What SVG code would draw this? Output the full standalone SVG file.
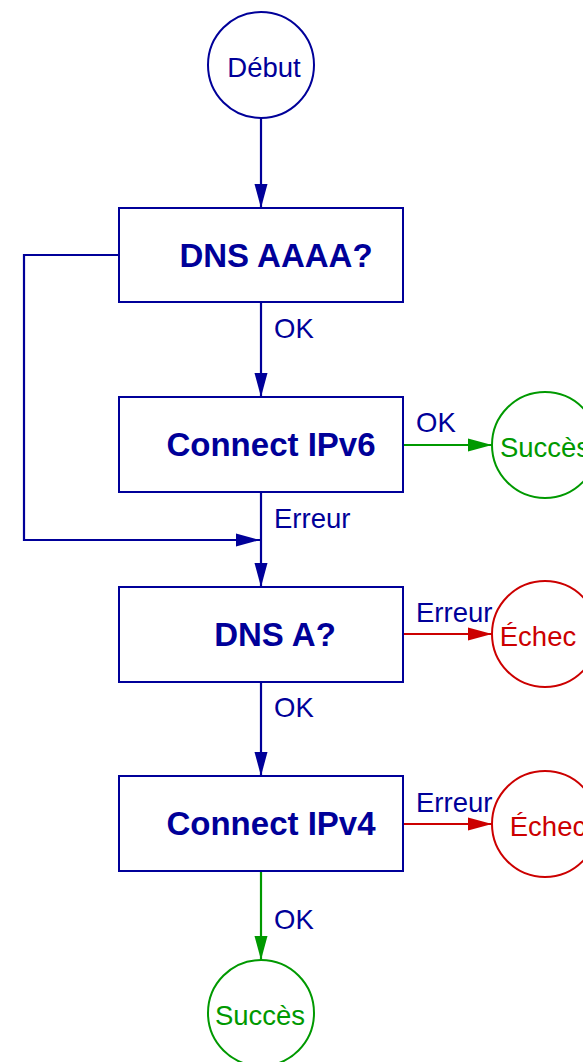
<svg xmlns="http://www.w3.org/2000/svg" width="583" height="1062" viewBox="0 0 583 1062">
<defs>
<style>
.bx{fill:#fff;stroke:#000099;stroke-width:2}
.bt{font-family:"Liberation Sans",Arial,sans-serif;font-weight:bold;font-size:33px;fill:#000099;text-anchor:middle}
.lb{font-family:"Liberation Sans",Arial,sans-serif;font-size:27.5px;fill:#000099}
.ct{font-family:"Liberation Sans",Arial,sans-serif;font-size:27.5px;text-anchor:middle}
.cb{fill:#fff;stroke:#000099;stroke-width:2}
.cg{fill:#fff;stroke:#009900;stroke-width:2}
.cr{fill:#fff;stroke:#cc0000;stroke-width:2}
.eb{fill:none;stroke:#000099;stroke-width:2.2;marker-end:url(#ab)}
.eg{fill:none;stroke:#009900;stroke-width:2.2;marker-end:url(#ag)}
.er{fill:none;stroke:#cc0000;stroke-width:2.2;marker-end:url(#ar)}
</style>
<marker id="ab" markerUnits="userSpaceOnUse" markerWidth="25" markerHeight="14" refX="24" refY="7" orient="auto"><path d="M0,0.5 L24,7 L0,13.5 z" fill="#000099"/></marker>
<marker id="ag" markerUnits="userSpaceOnUse" markerWidth="25" markerHeight="14" refX="24" refY="7" orient="auto"><path d="M0,0.5 L24,7 L0,13.5 z" fill="#009900"/></marker>
<marker id="ar" markerUnits="userSpaceOnUse" markerWidth="25" markerHeight="14" refX="24" refY="7" orient="auto"><path d="M0,0.5 L24,7 L0,13.5 z" fill="#cc0000"/></marker>
</defs>
<rect width="583" height="1062" fill="#fff"/>
<g id="connectors">
<path class="eb" d="M261,118 L261,208"/>
<path class="eb" d="M261,302 L261,397"/>
<path class="eb" d="M261,492 L261,587"/>
<path class="eb" d="M119,255 L24,255 L24,540 L260,540"/>
<path class="eg" d="M403,445 L492,445"/>
<path class="er" d="M403,634 L492,634"/>
<path class="eb" d="M261,682 L261,776"/>
<path class="er" d="M403,824 L492,824"/>
<path class="eg" d="M261,871 L261,960"/>
<text class="lb" x="274" y="338">OK</text>
<text class="lb" x="416" y="432">OK</text>
<text class="lb" x="274" y="528">Erreur</text>
<text class="lb" x="416" y="622">Erreur</text>
<text class="lb" x="274" y="717">OK</text>
<text class="lb" x="416" y="812">Erreur</text>
<text class="lb" x="274" y="929">OK</text>
</g>
<g id="debut"><circle class="cb" cx="261" cy="65" r="53"/><text class="ct" x="264" y="77" fill="#000099">Début</text></g>
<g id="dns-aaaa"><rect class="bx" x="119" y="208" width="284" height="94"/><text class="bt" x="276" y="267">DNS AAAA?</text></g>
<g id="connect-ipv6"><rect class="bx" x="119" y="397" width="284" height="95"/><text class="bt" x="271" y="456">Connect IPv6</text></g>
<g id="succes-1"><circle class="cg" cx="545" cy="445" r="53"/><text class="ct" x="545" y="457" fill="#009900">Succès</text></g>
<g id="dns-a"><rect class="bx" x="119" y="587" width="284" height="95"/><text class="bt" x="275" y="646">DNS A?</text></g>
<g id="echec-1"><circle class="cr" cx="545" cy="634" r="53"/><text class="ct" x="538" y="646" fill="#cc0000">Échec</text></g>
<g id="connect-ipv4"><rect class="bx" x="119" y="776" width="284" height="95"/><text class="bt" x="271" y="835">Connect IPv4</text></g>
<g id="echec-2"><circle class="cr" cx="545" cy="824" r="53"/><text class="ct" x="548" y="836" fill="#cc0000">Échec</text></g>
<g id="succes-2"><circle class="cg" cx="261" cy="1013" r="53"/><text class="ct" x="260" y="1025" fill="#009900">Succès</text></g>
</svg>
